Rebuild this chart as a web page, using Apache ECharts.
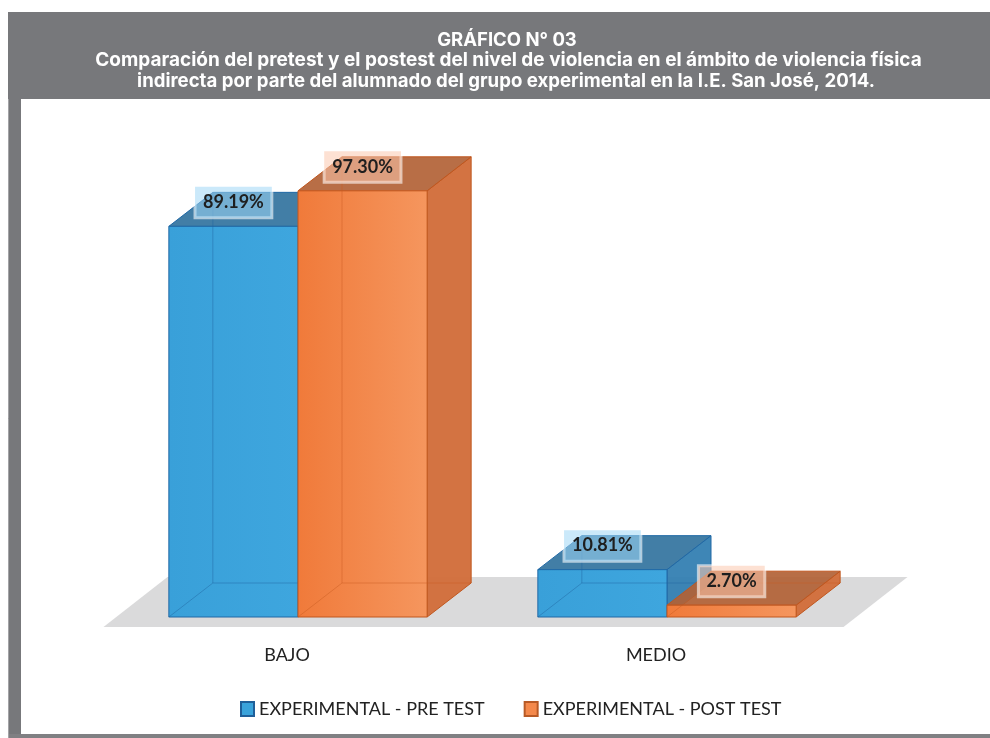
<!DOCTYPE html>
<html>
<head>
<meta charset="utf-8">
<script src="https://cdn.jsdelivr.net/npm/echarts@6/dist/echarts.min.js"></script>
<style>
html,body{margin:0;padding:0;background:#fff;}
#c{width:990px;height:738px;}
</style>
</head>
<body>
<div id="c"></div>
<script>
// ---- data ----
const categories = ['BAJO', 'MEDIO'];
const seriesNames = ['EXPERIMENTAL - PRE TEST', 'EXPERIMENTAL - POST TEST'];
const preTest = [89.19, 10.81];
const postTest = [97.30, 2.70];
const titleLines = [
  'GRÁFICO N° 03',
  'Comparación del pretest y el postest del nivel de violencia en el ámbito de violencia física',
  'indirecta por parte del alumnado del grupo experimental en la I.E. San José, 2014.'
];

// ---- styles ----
const palettes = [
  { front: ['#39a0d9', '#3ea6de'], top: 'rgba(50,115,158,0.92)', side: 'rgba(52,128,178,0.95)', edge: '#2169a6', hidden: 'rgba(30,100,160,0.45)', labelBg: 'rgba(160,215,245,0.55)', legendBorder: '#1f5f99' },
  { front: ['#f07a3a', '#f5965e'], top: 'rgba(178,98,54,0.92)', side: 'rgba(210,110,60,0.97)', edge: '#c0571f', hidden: 'rgba(200,90,30,0.45)', labelBg: 'rgba(252,200,175,0.55)', legendBorder: '#b85a26' }
];
const DX = 44, DY = -34;

function makeBarRender(si) {
  const p = palettes[si];
  return function (params, api) {
    const ci = api.value(0), v = api.value(1);
    const base = api.coord([ci, 0]);
    const topPt = api.coord([ci, v]);
    const bandW = api.size([1, 0])[0];
    const w = bandW * 0.35;
    const x0 = si === 0 ? base[0] - w : base[0];
    const x1 = x0 + w;
    const yb = base[1], yt = topPt[1];
    const edge = { stroke: p.edge, lineWidth: 1 };
    const children = [
      { type: 'polygon', shape: { points: [[x1, yt], [x1 + DX, yt + DY], [x1 + DX, yb + DY], [x1, yb]] },
        style: Object.assign({ fill: p.side }, edge) },
      { type: 'polygon', shape: { points: [[x0, yt], [x1, yt], [x1 + DX, yt + DY], [x0 + DX, yt + DY]] },
        style: Object.assign({ fill: p.top }, edge) },
      { type: 'rect', shape: { x: x0, y: yt, width: w, height: yb - yt },
        style: Object.assign({ fill: new echarts.graphic.LinearGradient(0, 0, 1, 0, [{ offset: 0, color: p.front[0] }, { offset: 1, color: p.front[1] }]) }, edge) },
      { type: 'polyline', shape: { points: [[x0 + DX, yt + DY], [x0 + DX, yb + DY], [x1 + DX, yb + DY]] },
        style: { stroke: p.hidden, lineWidth: 1, fill: null } },
      { type: 'line', shape: { x1: x0, y1: yb, x2: x0 + DX, y2: yb + DY },
        style: { stroke: p.hidden, lineWidth: 1 } },
      { type: 'text', z2: 10, style: {
          text: v.toFixed(2) + '%', x: (x0 + x1) / 2, y: yt - 24, align: 'center', verticalAlign: 'middle',
          font: 'bold 18px Lato', fill: '#1e1e1e', backgroundColor: p.labelBg,
          borderColor: 'rgba(255,255,255,0.6)', borderWidth: 1.5, padding: [7, 8, 6, 8] } }
    ];
    return { type: 'group', children: children };
  };
}

function floorRender(params, api) {
  const cs = params.coordSys;
  const yb = cs.y + cs.height;
  return {
    type: 'polygon',
    shape: { points: [[cs.x - 10, yb + 10], [cs.x + cs.width - 8, yb + 10], [cs.x + cs.width + 56, yb - 40], [cs.x + 54, yb - 40]] },
    style: { fill: '#dadadb' }
  };
}

const chart = echarts.init(document.getElementById('c'), null, { renderer: 'canvas' });
const option = {
  backgroundColor: '#ffffff',
  animation: false,
  graphic: [
    { type: 'rect', shape: { x: 8, y: 12, width: 982, height: 87 }, style: { fill: '#77787b' }, z: -10 },
    { type: 'rect', shape: { x: 8, y: 99, width: 13, height: 636 }, style: { fill: '#77787b' }, z: -10 },
    { type: 'rect', shape: { x: 8, y: 734, width: 982, height: 4 }, style: { fill: '#808083' }, z: -10 },
    { type: 'line', shape: { x1: 8.5, y1: 99, x2: 8.5, y2: 738 }, style: { stroke: '#a3a3a6', lineWidth: 1 }, z: -9 },
    { type: 'text', x: 507, y: 40, z: 10,
      style: { text: titleLines[0], align: 'center', verticalAlign: 'middle', font: 'bold 18.5px Inter', fill: '#ffffff' } },
    { type: 'text', x: 508.5, y: 60.5, z: 10,
      style: { text: titleLines[1], align: 'center', verticalAlign: 'middle', font: 'bold 19px Inter', fill: '#ffffff' } },
    { type: 'text', x: 506, y: 81.5, z: 10,
      style: { text: titleLines[2], align: 'center', verticalAlign: 'middle', font: 'bold 18.6px Inter', fill: '#ffffff' } }
  ],
  grid: { left: 113.5, width: 738, top: 179, height: 438 },
  xAxis: {
    type: 'category', data: categories,
    axisLine: { show: false }, axisTick: { show: false }, splitLine: { show: false },
    axisLabel: { color: '#222', fontFamily: 'Lato', fontSize: 18, margin: 29, padding: [0, 22, 0, 0] }
  },
  yAxis: { type: 'value', min: 0, max: 100, show: false },
  legend: {
    data: seriesNames, left: 235, top: 695, icon: 'rect', itemWidth: 13, itemHeight: 14, itemGap: 39,
    textStyle: { color: '#222', fontFamily: 'Lato', fontSize: 18 }
  },
  series: [
    { type: 'custom', name: '_floor', renderItem: floorRender, data: [[0, 0]], z: 1, silent: true },
    { type: 'custom', name: seriesNames[0], renderItem: makeBarRender(0), z: 2,
      itemStyle: { color: '#3aa3db', borderColor: palettes[0].legendBorder, borderWidth: 1 },
      data: preTest.map((v, i) => [i, v]) },
    { type: 'custom', name: seriesNames[1], renderItem: makeBarRender(1), z: 3,
      itemStyle: { color: '#f4894c', borderColor: palettes[1].legendBorder, borderWidth: 1 },
      data: postTest.map((v, i) => [i, v]) }
  ]
};
chart.setOption(option);
</script>
</body>
</html>
